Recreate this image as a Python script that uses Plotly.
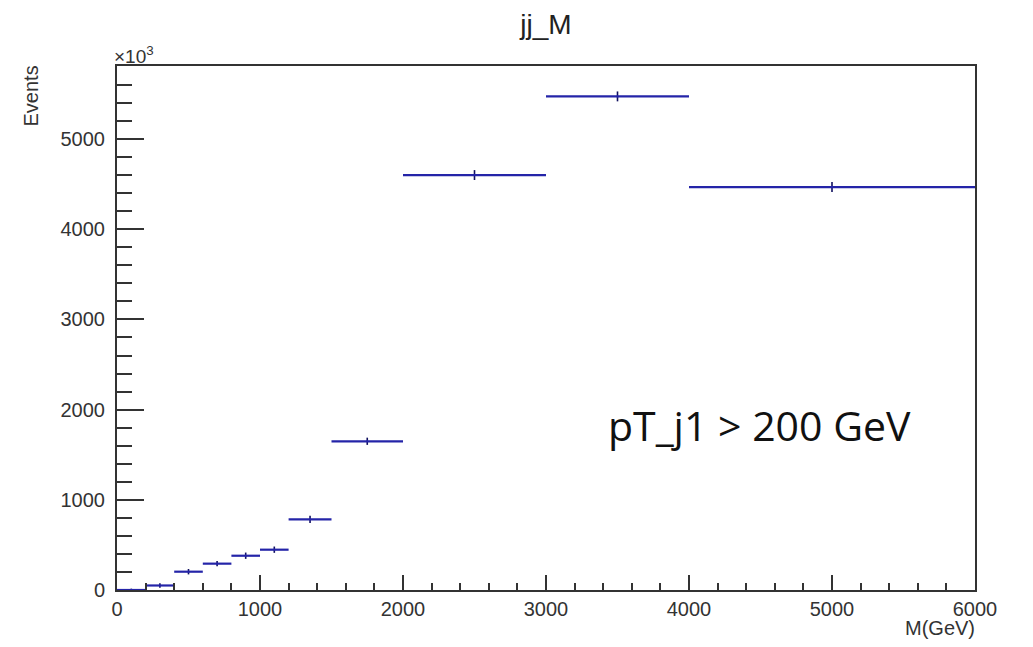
import plotly.graph_objects as go

# Bin edges (GeV) and contents (in units of 10^3 events)
bin_lo = [0, 200, 400, 600, 800, 1000, 1200, 1500, 2000, 3000, 4000]
bin_hi = [200, 400, 600, 800, 1000, 1200, 1500, 2000, 3000, 4000, 6000]
events = [0, 50, 203, 292, 380, 447, 784, 1649, 4601, 5473, 4468]
errors = [15, 25, 30, 30, 35, 35, 40, 40, 55, 55, 55]

centers = [(a + b) / 2 for a, b in zip(bin_lo, bin_hi)]
halfw = [(b - a) / 2 for a, b in zip(bin_lo, bin_hi)]

blue = "#2424a8"
axcol = "#333333"
font = "Liberation Sans, Arial, sans-serif"

fig = go.Figure()
fig.add_trace(go.Scatter(
    x=centers, y=events, mode="markers",
    marker=dict(size=2, color=blue),
    error_x=dict(type="data", array=halfw, width=0, thickness=2.2, color=blue),
    error_y=dict(type="data", array=errors, width=0, thickness=1.6, color="#101060"),
    showlegend=False, hoverinfo="x+y", cliponaxis=True,
))

fig.update_layout(
    width=1033, height=647,
    margin=dict(l=117, r=58, t=66, b=57),
    paper_bgcolor="white", plot_bgcolor="white",
    font=dict(family=font, color="#222222", size=20),
    title=dict(text="jj_M", x=(117 + 975) / 2 / 1033, xanchor="center",
               y=1 - 24 / 647, yanchor="middle",
               font=dict(size=28, family=font, color="#222222")),
)

fig.update_xaxes(
    range=[0, 6000], showgrid=False, zeroline=False,
    showline=True, linecolor=axcol, linewidth=2, mirror=True,
    ticks="inside", ticklen=15, tickwidth=2, tickcolor=axcol,
    dtick=1000, tick0=0, tickformat="d",
    tickfont=dict(size=20, family=font, color="#333333"),
    minor=dict(ticks="inside", ticklen=7, tickwidth=2, tickcolor=axcol, dtick=200, tick0=0, showgrid=False),
)
fig.update_yaxes(
    range=[0, 5810], showgrid=False, zeroline=False,
    showline=True, linecolor=axcol, linewidth=2, mirror=True,
    ticks="inside", ticklen=27, tickwidth=2, tickcolor=axcol,
    dtick=1000, tick0=0, tickformat="d", ticklabelstandoff=6,
    tickfont=dict(size=20, family=font, color="#333333"),
    minor=dict(ticks="inside", ticklen=15, tickwidth=2, tickcolor=axcol, dtick=200, tick0=0, showgrid=False),
)

fig.add_annotation(text="M(GeV)", xref="paper", yref="paper", x=1, y=0,
                   xanchor="right", yanchor="middle", xshift=2, yshift=-38, showarrow=False,
                   font=dict(size=20, family=font, color="#333333"))
fig.add_annotation(text="Events", xref="paper", yref="paper", x=0, y=1,
                   xanchor="center", yanchor="top", xshift=-87, yshift=2, textangle=-90,
                   showarrow=False, font=dict(size=20, family=font, color="#333333"))
fig.add_annotation(text="×10<sup>3</sup>", xref="paper", yref="paper", x=0, y=1,
                   xanchor="left", yanchor="bottom", xshift=-5, yshift=-3, showarrow=False,
                   font=dict(size=19, family=font, color="#333333"))
fig.add_annotation(text="pT_j1 > 200 GeV", xref="x", yref="y", x=4490, y=1830,
                   xanchor="center", yanchor="middle", showarrow=False,
                   font=dict(size=41, family="Open Sans, Noto Sans, sans-serif", color="#111111"))

fig.write_html("out.html")
